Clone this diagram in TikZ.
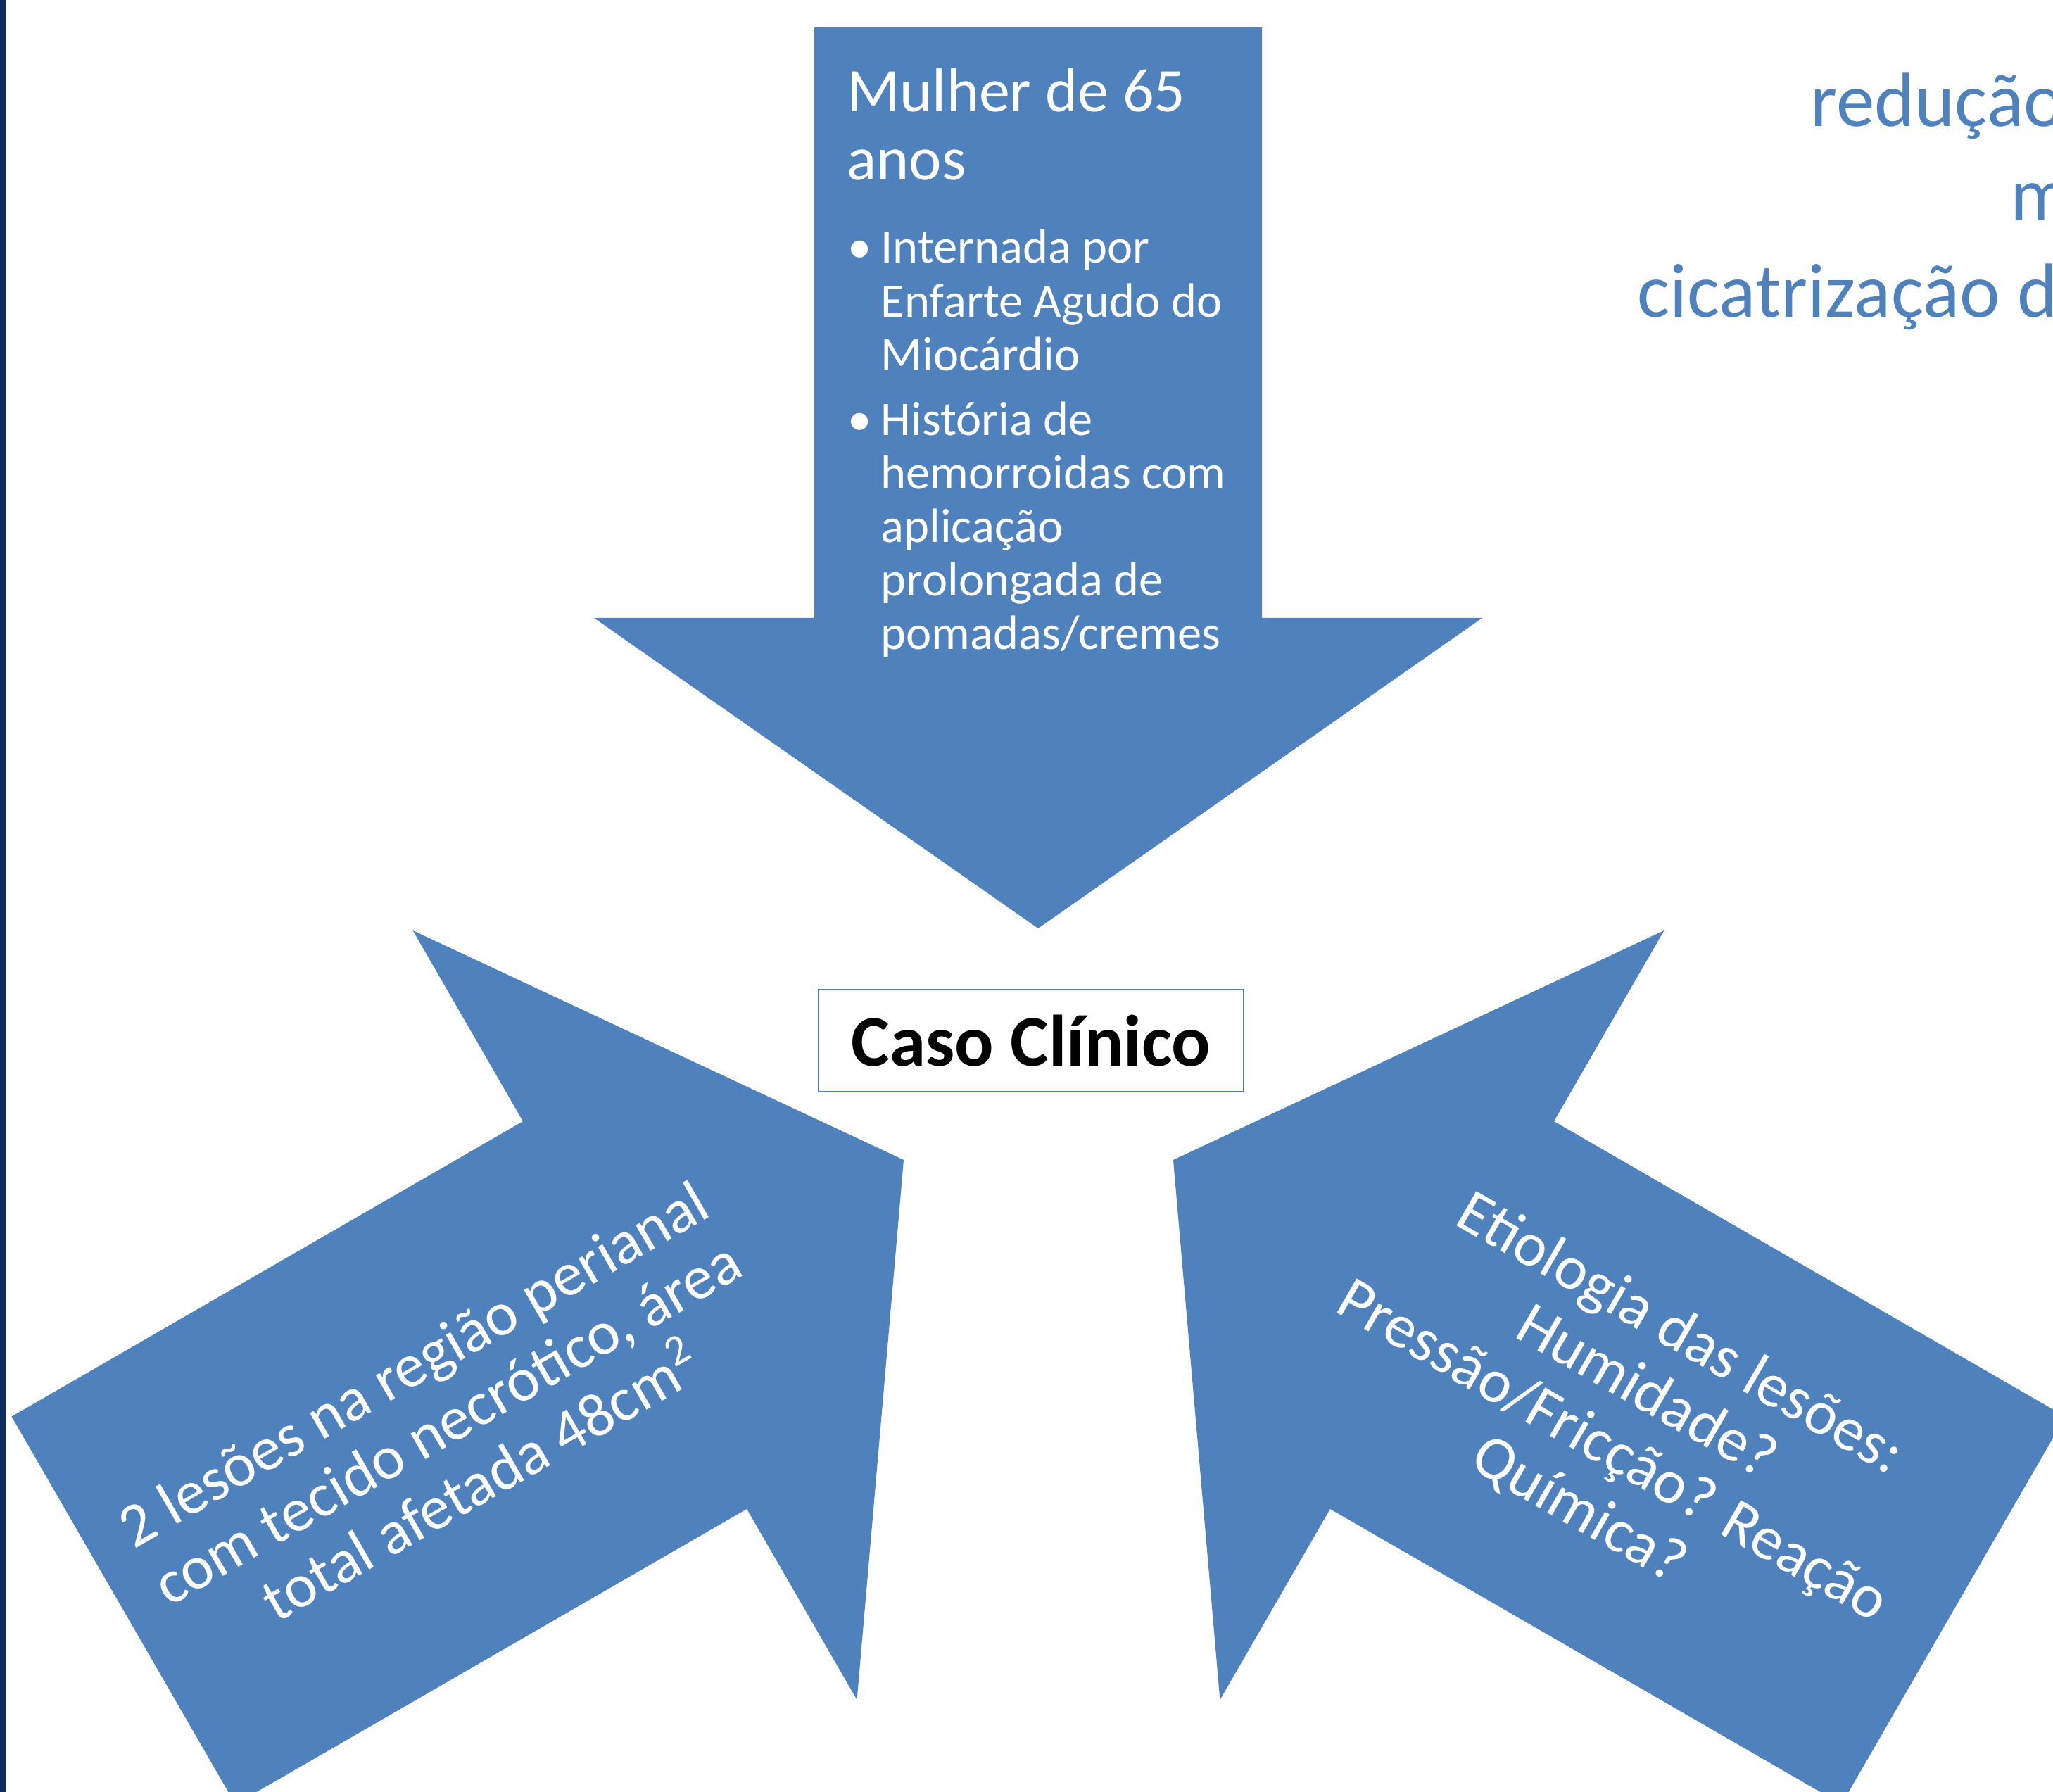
\documentclass[tikz,border=0pt]{standalone}
\usepackage{fontspec}
\setmainfont{Carlito}
\usepackage{tikz}
\usetikzlibrary{positioning}
\definecolor{arrowblue}{HTML}{4F81BD}
\definecolor{slidenavy}{HTML}{0F2D5F}

\begin{document}
\begin{tikzpicture}[
  bigarrow/.pic={\fill[arrowblue] (0,0) -- (-4.41,6.31) -- (-4.41,3.18) -- (-12.8,3.18)
    -- (-12.8,-3.18) -- (-4.41,-3.18) -- (-4.41,-6.31) -- cycle;},
  headtext/.style={text=white, inner sep=0pt, anchor=base west,
    font=\fontsize{25pt}{27.4pt}\selectfont},
  listtext/.style={text=white, inner sep=0pt, anchor=base west,
    font=\fontsize{19.5pt}{21.65pt}\selectfont},
  sidetext/.style={text=white, align=center, font=\fontsize{25pt}{27.4pt}\selectfont},
  casebox/.style={rectangle, draw=arrowblue, line width=0.8pt, fill=white,
    minimum width=6.04cm, minimum height=1.45cm, font=\fontsize{29.4pt}{34pt}\selectfont\bfseries},
  goaltext/.style={text=arrowblue, inner sep=0pt, anchor=base west,
    font=\fontsize{31pt}{38pt}\selectfont}
]
  \path[use as bounding box, clip] (0,0) rectangle (29.17,25.46);
  \fill[white] (0,0) rectangle (29.17,25.46);
  \fill[slidenavy] (0,0) rectangle (0.09,25.46);

  % three arrows around the case
  \pic[rotate=-90] at (14.75,12.27) {bigarrow};
  \pic[rotate=30] at (12.84,8.98) {bigarrow};
  \pic[rotate=150] at (16.67,8.98) {bigarrow};

  \node[headtext] (profile) at (12.03,23.87) {\begin{tabular}[t]{@{}l@{}}Mulher de 65\\anos\end{tabular}};
  \node[listtext] (history) at (12.04,21.72) {\begin{tabular}[t]{@{}p{0.47cm}@{}l@{}}
    \textbullet & Internada por\\
     & Enfarte Agudo do\\
     & Miocárdio\\[0.16cm]
    \textbullet & História de\\
     & hemorroidas com\\
     & aplicação\\
     & prolongada de\\
     & pomadas/cremes
  \end{tabular}};

  \node[casebox] (caso) at (14.65,10.675) {Caso Clínico};

  \node[sidetext, rotate=30] (lesions) at (6.35,5.25) {2 lesões na região perianal\\com tecido necrótico, área\\total afetada 48cm\textsuperscript{2}};
  \node[sidetext, rotate=-30] (etiology) at (23.15,5.25) {Etiologia das lesões:\\Humidade?\\Pressão/Fricção? Reação\\Química?};

  % text running off the right edge
  \node[goaltext] (goal1) at (25.72,23.66) {redução};
  \node[goaltext] (goal2) at (28.56,22.32) {m};
  \node[goaltext] (goal3) at (23.26,20.95) {cicatrização d};
\end{tikzpicture}
\end{document}
